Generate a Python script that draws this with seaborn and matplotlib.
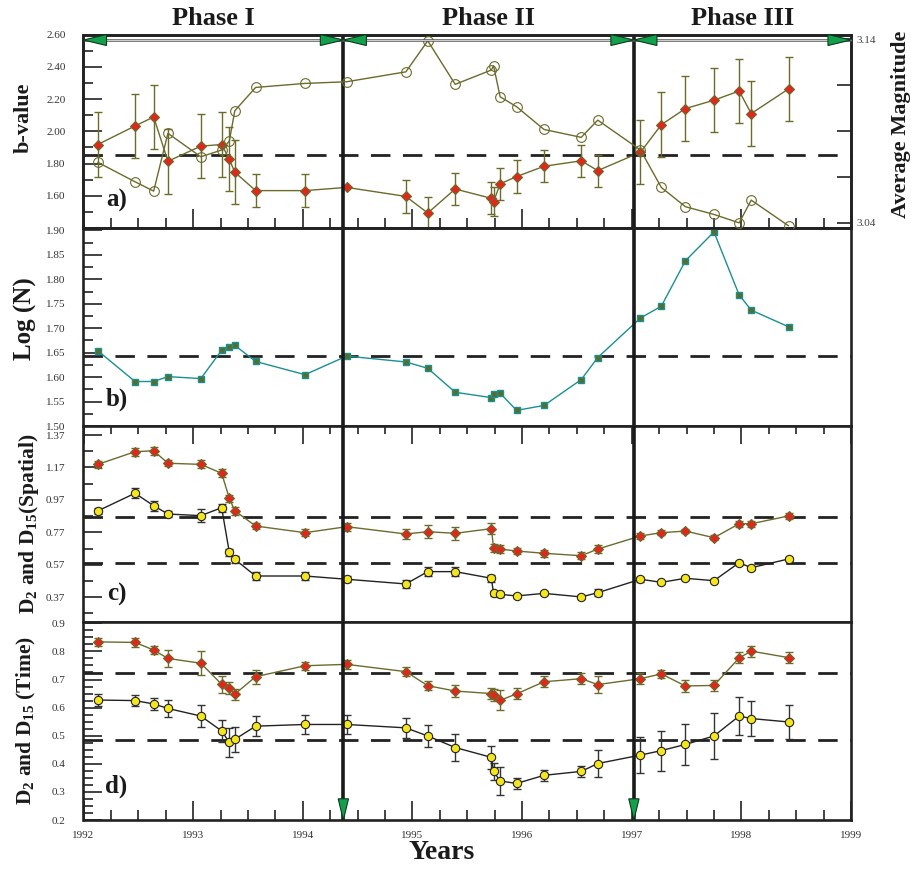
import numpy as np
import pandas as pd
import matplotlib
matplotlib.use("Agg")
import matplotlib.pyplot as plt
import matplotlib.transforms as mtransforms
from matplotlib.patches import Polygon
from matplotlib.ticker import FixedLocator, MultipleLocator, FormatStrFormatter
import seaborn as sns

# ---------------- data ----------------
years = [1992.13, 1992.47, 1992.64, 1992.77, 1993.07, 1993.26, 1993.33, 1993.38, 1993.57, 1994.02,
         1994.40, 1994.94, 1995.14, 1995.39, 1995.72, 1995.74, 1995.80, 1995.95, 1996.20, 1996.54,
         1996.69, 1997.08, 1997.27, 1997.49, 1997.75, 1997.98, 1998.09, 1998.43]

b_value = [1.918, 2.033, 2.089, 1.814, 1.908, 1.918, 1.827, 1.746, 1.632, 1.632,
           1.652, 1.596, 1.493, 1.642, 1.584, 1.563, 1.674, 1.719, 1.783, 1.817,
           1.756, 1.870, 2.041, 2.141, 2.193, 2.250, 2.110, 2.263]
b_err = [0.2, 0.2, 0.2, 0.2, 0.2, 0.2, 0.2, 0.2, 0.1, 0.1,
         0.0, 0.1, 0.1, 0.1, 0.1, 0.09, 0.1, 0.1, 0.1, 0.1,
         0.1, 0.2, 0.2, 0.2, 0.2, 0.2, 0.2, 0.2]
avg_mag = [3.0730, 3.0624, 3.0573, 3.0888, 3.0760, 3.0797, 3.0846, 3.1011, 3.1138, 3.1160,
           3.1169, 3.1223, 3.1392, 3.1155, 3.1233, 3.1256, 3.1087, 3.1033, 3.0909, 3.0866,
           3.0960, 3.0797, 3.0593, 3.0488, 3.0446, 3.0400, 3.0524, 3.0384]

log_n = [1.654, 1.591, 1.591, 1.601, 1.597, 1.655, 1.661, 1.665, 1.632, 1.605,
         1.643, 1.631, 1.618, 1.569, 1.558, 1.565, 1.567, 1.532, 1.542, 1.595,
         1.640, 1.721, 1.745, 1.838, 1.897, 1.768, 1.737, 1.703]

d2_spatial = [1.189, 1.267, 1.273, 1.196, 1.189, 1.134, 0.980, 0.903, 0.809, 0.768,
              0.805, 0.760, 0.774, 0.764, 0.793, 0.675, 0.667, 0.655, 0.641, 0.626,
              0.667, 0.748, 0.768, 0.778, 0.737, 0.823, 0.823, 0.871]
d2_spatial_err = [0.02, 0.025, 0.025, 0.02, 0.025, 0.025, 0.02, 0.025, 0.02, 0.02,
                  0.025, 0.03, 0.04, 0.04, 0.035, 0.025, 0.025, 0.02, 0.02, 0.02,
                  0.025, 0.02, 0.015, 0.015, 0.015, 0.02, 0.02, 0.02]
d15_spatial = [0.902, 1.011, 0.934, 0.883, 0.873, 0.922, 0.647, 0.604, 0.501, 0.501,
               0.481, 0.452, 0.528, 0.528, 0.487, 0.394, 0.388, 0.378, 0.394, 0.372,
               0.398, 0.481, 0.462, 0.487, 0.472, 0.583, 0.552, 0.606]
d15_spatial_err = [0.02, 0.03, 0.03, 0.02, 0.04, 0.025, 0.02, 0.02, 0.025, 0.025,
                   0.02, 0.025, 0.03, 0.03, 0.02, 0.015, 0.015, 0.012, 0.012, 0.012,
                   0.02, 0.015, 0.01, 0.012, 0.01, 0.012, 0.012, 0.012]

d2_time = [0.834, 0.832, 0.805, 0.775, 0.758, 0.683, 0.670, 0.648, 0.710, 0.749,
           0.754, 0.728, 0.678, 0.659, 0.650, 0.645, 0.626, 0.649, 0.692, 0.703,
           0.682, 0.703, 0.720, 0.677, 0.679, 0.777, 0.801, 0.778]
d2_time_err = [0.015, 0.015, 0.015, 0.03, 0.043, 0.03, 0.02, 0.02, 0.025, 0.015,
               0.015, 0.015, 0.015, 0.02, 0.02, 0.02, 0.035, 0.02, 0.02, 0.02,
               0.03, 0.02, 0.015, 0.02, 0.02, 0.02, 0.02, 0.02]
d15_time = [0.627, 0.625, 0.613, 0.597, 0.570, 0.517, 0.476, 0.487, 0.534, 0.540,
            0.540, 0.528, 0.499, 0.458, 0.423, 0.373, 0.339, 0.330, 0.359, 0.373,
            0.401, 0.431, 0.447, 0.469, 0.499, 0.570, 0.561, 0.549]
d15_time_err = [0.02, 0.02, 0.02, 0.03, 0.038, 0.038, 0.053, 0.045, 0.036, 0.035,
                0.035, 0.035, 0.04, 0.049, 0.04, 0.03, 0.05, 0.02, 0.02, 0.02,
                0.049, 0.063, 0.071, 0.072, 0.083, 0.066, 0.062, 0.062]

ref_b = [1.850]
ref_logn = [1.644]
ref_spatial = [0.862, 0.579]
ref_time = [0.7234, 0.4832]

phase_bounds = [1992.0, 1994.37, 1997.02, 1999.0]
phase_names = ["Phase I", "Phase II", "Phase III"]
year_ticks = [1992, 1993, 1994, 1995, 1996, 1997, 1998, 1999]

# ---------------- style ----------------
sns.set_theme(style="white")
plt.rcParams["font.family"] = ["Liberation Serif", "DejaVu Serif"]
plt.rcParams["mathtext.fontset"] = "custom"
plt.rcParams["mathtext.rm"] = "Liberation Serif:bold"
plt.rcParams["mathtext.it"] = "Liberation Serif:bold"
plt.rcParams["mathtext.bf"] = "Liberation Serif:bold"

OLIVE = "#6b6b2c"
RED = "#e2261c"
TEAL = "#1b9090"
SQFACE = "#5b6b2a"
YELLOW = "#f4e61a"
GREEN = "#13a04c"
DARK = "#222222"

fig = plt.figure(figsize=(9.12, 8.69), dpi=100)
W, H = 912.0, 869.0
left_px, right_px = 83.5, 851.0


def make_ax(top_px, bot_px):
    return fig.add_axes([left_px / W, 1 - bot_px / H, (right_px - left_px) / W, (bot_px - top_px) / H])


ax_a = make_ax(34.6, 228.0)
ax_b = make_ax(228.0, 426.0)
ax_c = make_ax(426.0, 622.0)
ax_d = make_ax(622.0, 820.0)
axes = [ax_a, ax_b, ax_c, ax_d]


def series(ax, x, y, err, marker, face, edge, line, ms, ecolor, z=4, mew=0.8):
    df = pd.DataFrame({"year": x, "val": y})
    sns.lineplot(data=df, x="year", y="val", ax=ax, sort=False, estimator=None, legend=False,
                 color=line, lw=1.0, marker=marker, markersize=ms, markerfacecolor=face,
                 markeredgecolor=edge, markeredgewidth=mew, zorder=z)
    if err is not None:
        xs = [a for a, e in zip(x, err) if e > 0]
        ys = [b for b, e in zip(y, err) if e > 0]
        es = [e for e in err if e > 0]
        ax.errorbar(xs, ys, yerr=es, fmt="none", ecolor=ecolor, elinewidth=1.0,
                    capsize=3, capthick=1.0, zorder=z - 1)
    ax.set_xlabel("")
    ax.set_ylabel("")


# panel a
series(ax_a, years, b_value, b_err, "D", RED, OLIVE, OLIVE, 5, OLIVE, z=5)
ax_a2 = ax_a.twinx()
ax_a2.set_position(ax_a.get_position())
series(ax_a2, years, avg_mag, None, "o", "none", OLIVE, OLIVE, 7, OLIVE, z=4)
ax_a.set_ylim(1.40, 2.60)
ax_a2.set_ylim(3.0372, 3.1426)
for v in ref_b:
    ax_a.axhline(v, color=DARK, lw=2.0, dashes=(7, 4.5), zorder=2)

# panel b
series(ax_b, years, log_n, None, "s", SQFACE, TEAL, TEAL, 5, TEAL, z=5, mew=1.0)
ax_b.set_ylim(1.50, 1.905)
for v in ref_logn:
    ax_b.axhline(v, color=DARK, lw=2.0, dashes=(7, 4.5), zorder=2)

# panel c
series(ax_c, years, d2_spatial, d2_spatial_err, "D", RED, OLIVE, OLIVE, 5, OLIVE, z=5)
series(ax_c, years, d15_spatial, d15_spatial_err, "o", YELLOW, "#222222", "#222222", 6, "#333333", z=5)
ax_c.set_ylim(0.2175, 1.4255)
for v in ref_spatial:
    ax_c.axhline(v, color=DARK, lw=2.0, dashes=(7, 4.5), zorder=2)

# panel d
series(ax_d, years, d2_time, d2_time_err, "D", RED, OLIVE, OLIVE, 5, OLIVE, z=5)
series(ax_d, years, d15_time, d15_time_err, "o", YELLOW, "#222222", "#222222", 6, "#333333", z=5)
ax_d.set_ylim(0.2, 0.9047)
for v in ref_time:
    ax_d.axhline(v, color=DARK, lw=2.0, dashes=(7, 4.5), zorder=2)

# common axis styling
for ax in axes + [ax_a2]:
    ax.set_xlim(1992, 1999)
    for s in ax.spines.values():
        s.set_linewidth(1.9)
        s.set_color("#222222")
        s.set_visible(True)

for ax in axes:
    ax.xaxis.set_major_locator(FixedLocator(year_ticks))
    ax.xaxis.set_minor_locator(MultipleLocator(0.25))
    ax.tick_params(axis="x", which="both", direction="in", bottom=False, top=False,
                   labelbottom=False, labeltop=False, color="#222222", width=1.2)
    ax.tick_params(axis="x", which="major", length=14)
    ax.tick_params(axis="x", which="minor", length=7)
    ax.tick_params(axis="y", which="both", direction="in", left=True, right=False,
                   labelleft=True, labelright=False, color="#222222", width=1.2,
                   labelsize=8, pad=13, labelcolor="#333333")
    ax.tick_params(axis="y", which="major", length=14)
    ax.tick_params(axis="y", which="minor", length=7)

ax_a.tick_params(axis="x", which="both", bottom=True)
ax_c.tick_params(axis="x", which="both", top=True)
ax_c.tick_params(axis="x", which="major", length=13)
ax_c.tick_params(axis="x", which="minor", length=6)
ax_d.tick_params(axis="x", which="both", bottom=True, labelbottom=True, labelsize=8,
                 pad=8, labelcolor="#333333")

ax_a.yaxis.set_major_locator(FixedLocator([1.60, 1.80, 2.00, 2.20, 2.40, 2.60]))
ax_a.yaxis.set_minor_locator(FixedLocator(list(np.round(np.arange(1.5, 2.6, 0.2), 2))))
ax_a.yaxis.set_major_formatter(FormatStrFormatter("%.2f"))

ax_b.yaxis.set_major_locator(FixedLocator(list(np.round(np.arange(1.50, 1.91, 0.05), 2))))
ax_b.yaxis.set_minor_locator(FixedLocator(list(np.round(np.arange(1.525, 1.90, 0.05), 3))))
ax_b.yaxis.set_major_formatter(FormatStrFormatter("%.2f"))

ax_c.yaxis.set_major_locator(FixedLocator([0.37, 0.57, 0.77, 0.97, 1.17, 1.37]))
ax_c.yaxis.set_minor_locator(FixedLocator([0.27, 0.47, 0.67, 0.87, 1.07, 1.27]))
ax_c.yaxis.set_major_formatter(FormatStrFormatter("%.2f"))

ax_d.yaxis.set_major_locator(FixedLocator(list(np.round(np.arange(0.2, 0.91, 0.1), 1))))
ax_d.yaxis.set_minor_locator(MultipleLocator(0.025))
ax_d.yaxis.set_major_formatter(FormatStrFormatter("%.1f"))
ax_d.xaxis.set_major_formatter(FormatStrFormatter("%d"))

ax_a2.yaxis.set_major_locator(FixedLocator([3.04, 3.14]))
ax_a2.yaxis.set_minor_locator(FixedLocator([3.065, 3.09, 3.115]))
ax_a2.yaxis.set_major_formatter(FormatStrFormatter("%.2f"))
ax_a2.tick_params(axis="y", which="both", direction="in", right=True, left=False,
                  labelright=True, labelleft=False, labelsize=8, pad=4,
                  labelcolor="#444444", color="#222222", width=1.2)
ax_a2.tick_params(axis="y", which="major", length=10)
ax_a2.tick_params(axis="y", which="minor", length=10)
ax_a2.tick_params(axis="x", which="both", bottom=False, top=False)

# phase separator lines
for ax in axes:
    for xb in phase_bounds[1:3]:
        ax.axvline(xb, color="#1a1a1a", lw=2.6, zorder=6)

# top double-headed arrows in panel a
trans_a = mtransforms.blended_transform_factory(ax_a2.transData, ax_a2.transAxes)
yc, hh, ww = 0.972, 0.057, 0.21
for x0, x1 in zip(phase_bounds[:-1], phase_bounds[1:]):
    ax_a2.plot([x0, x1], [yc, yc], transform=trans_a, color="#555555", lw=1.8,
               solid_capstyle="butt", zorder=7, clip_on=False)
    ax_a2.plot([x0, x1], [yc, yc], transform=trans_a, color="white", lw=0.5,
               solid_capstyle="butt", zorder=7, clip_on=False)
    for verts in ([(x0, yc), (x0 + ww, yc + hh / 2), (x0 + ww, yc - hh / 2)],
                  [(x1, yc), (x1 - ww, yc + hh / 2), (x1 - ww, yc - hh / 2)]):
        ax_a2.add_patch(Polygon(verts, closed=True, facecolor=GREEN, edgecolor="#0c3a1c",
                                lw=0.8, transform=trans_a, zorder=8, clip_on=False))

# bottom down arrows in panel d
trans_d = mtransforms.blended_transform_factory(ax_d.transData, ax_d.transAxes)
for xb in phase_bounds[1:3]:
    ax_d.add_patch(Polygon([(xb, 0.0), (xb - 0.047, 0.107), (xb + 0.047, 0.107)], closed=True,
                           facecolor=GREEN, edgecolor="#0c3a1c", lw=0.8, transform=trans_d,
                           zorder=8, clip_on=False))

# phase titles
for name, x0, x1 in zip(phase_names, phase_bounds[:-1], phase_bounds[1:]):
    ax_a.text((x0 + x1) / 2, 1.085, name, transform=mtransforms.blended_transform_factory(
        ax_a.transData, ax_a.transAxes), ha="center", va="center", fontsize=19,
        fontweight="bold", color="#1a1a1a")

# panel labels
for ax, lab, yf in [(ax_a, "a)", 0.14), (ax_b, "b)", 0.136), (ax_c, "c)", 0.143), (ax_d, "d)", 0.17)]:
    ax.text(1992.30, yf, lab, transform=mtransforms.blended_transform_factory(ax.transData, ax.transAxes),
            ha="center", va="center", fontsize=18, fontweight="bold", color="#1a1a1a", zorder=9)

# axis labels
fig.text(24 / W, 1 - 118 / H, "b-value", rotation=90, ha="center", va="center",
         fontsize=16, fontweight="bold", color="#1a1a1a")
fig.text(25 / W, 1 - 319 / H, "Log (N)", rotation=90, ha="center", va="center",
         fontsize=18, fontweight="bold", color="#1a1a1a")
fig.text(29 / W, 1 - 524 / H, r"D$_2$ and D$_{15}$(Spatial)", rotation=90, ha="center",
         va="center", fontsize=15.5, fontweight="bold", color="#1a1a1a")
fig.text(26 / W, 1 - 721 / H, r"D$_2$ and D$_{15}$ (Time)", rotation=90, ha="center",
         va="center", fontsize=15.5, fontweight="bold", color="#1a1a1a")
fig.text(901 / W, 1 - 124 / H, "Average Magnitude", rotation=90, ha="center", va="center",
         fontsize=16, fontweight="bold", color="#1a1a1a")
fig.text(442 / W, 4 / H, "Years", ha="center", va="bottom", fontsize=20,
         fontweight="bold", color="#1a1a1a")

fig.savefig("out.png", dpi=100, facecolor="white")
